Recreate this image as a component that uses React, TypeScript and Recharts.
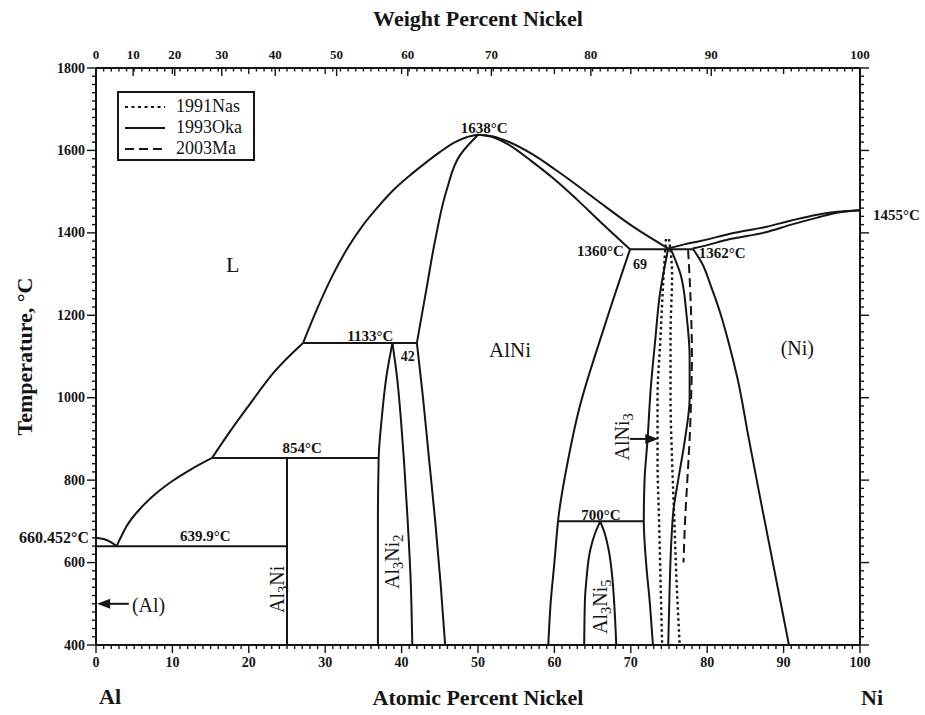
import { ComposedChart, Legend, Line, Scatter, XAxis, YAxis } from "recharts";

const FONT = '"Liberation Serif", "Times New Roman", Times, serif';
const INK = "#151515";

// axis labels
const atomicLabels = [0, 10, 20, 30, 40, 50, 60, 70, 80, 90, 100];
const weightLabels = [0, 10, 20, 30, 40, 50, 60, 70, 80, 90, 100];
const tempLabels = [400, 600, 800, 1000, 1200, 1400, 1600, 1800];
const legendNames = ["1991Nas", "1993Oka", "2003Ma"];

// atomic masses, for placing the weight-percent scale on top
const AL = 26.98;
const NI = 58.69;
const wtToAt = (w: number) => (100 * (w / NI)) / (w / NI + (100 - w) / AL);

const atomicMinor = Array.from({ length: 101 }, (_, i) => i);
const tempMinor = Array.from({ length: 71 }, (_, i) => 400 + i * 20);
const weightPos = weightLabels.map(wtToAt);
const topTicks = [...new Set([...atomicMinor, ...weightPos])].sort((a, b) => a - b);

// 1993Oka boundaries (x = at.% Ni, t = °C)
const alMelt = [
  { x: 0, t: 660.452 },
  { x: 1, t: 657 },
  { x: 2, t: 649 },
  { x: 2.7, t: 639.9 },
];
const liqAl = [
  { x: 2.7, t: 639.9 },
  { x: 4, t: 688 },
  { x: 6, t: 735 },
  { x: 8, t: 770 },
  { x: 10, t: 798 },
  { x: 12.5, t: 827 },
  { x: 15.2, t: 854 },
];
const liqAl3Ni = [
  { x: 15.2, t: 854 },
  { x: 17.5, t: 917 },
  { x: 19.8, t: 976 },
  { x: 23.3, t: 1062 },
  { x: 27.1, t: 1133 },
];
const liqDomeLeft = [
  { x: 27.1, t: 1133 },
  { x: 29, t: 1218 },
  { x: 31, t: 1298 },
  { x: 33, t: 1365 },
  { x: 35, t: 1420 },
  { x: 37, t: 1465 },
  { x: 39, t: 1505 },
  { x: 41, t: 1538 },
  { x: 43, t: 1568 },
  { x: 45, t: 1596 },
  { x: 47, t: 1620 },
  { x: 48.5, t: 1632 },
  { x: 50, t: 1638 },
];
const liqDomeRight = [
  { x: 50, t: 1638 },
  { x: 52, t: 1634 },
  { x: 54, t: 1621 },
  { x: 57, t: 1592 },
  { x: 60, t: 1555 },
  { x: 63, t: 1515 },
  { x: 66, t: 1473 },
  { x: 70.3, t: 1415 },
  { x: 74.9, t: 1362 },
];
const alNiSolRight = [
  { x: 50, t: 1638 },
  { x: 52, t: 1632 },
  { x: 54, t: 1614 },
  { x: 57, t: 1574 },
  { x: 60, t: 1530 },
  { x: 63, t: 1480 },
  { x: 66, t: 1427 },
  { x: 69.9, t: 1360 },
];
const alNiLeftUpper = [
  { x: 42, t: 1133 },
  { x: 43.3, t: 1269 },
  { x: 44.4, t: 1383 },
  { x: 45.9, t: 1504 },
  { x: 47.7, t: 1590 },
  { x: 50, t: 1638 },
];
const alNiLeftLower = [
  { x: 42, t: 1133 },
  { x: 42.8, t: 1000 },
  { x: 43.6, t: 850 },
  { x: 44.4, t: 700 },
  { x: 45.1, t: 550 },
  { x: 45.7, t: 400 },
];
const alNiRightLower = [
  { x: 69.9, t: 1360 },
  { x: 66.5, t: 1170 },
  { x: 63.2, t: 970 },
  { x: 61.8, t: 850 },
  { x: 60.6, t: 720 },
  { x: 60, t: 600 },
  { x: 59.5, t: 500 },
  { x: 59.2, t: 400 },
];
const al3Ni2Left = [
  { x: 38.8, t: 1133 },
  { x: 38, t: 1050 },
  { x: 37.4, t: 950 },
  { x: 37, t: 854 },
  { x: 36.9, t: 700 },
  { x: 36.9, t: 400 },
];
const al3Ni2Right = [
  { x: 38.8, t: 1133 },
  { x: 39.4, t: 1050 },
  { x: 39.9, t: 950 },
  { x: 40.3, t: 850 },
  { x: 40.8, t: 700 },
  { x: 41.2, t: 550 },
  { x: 41.4, t: 400 },
];
const al3Ni5Left = [
  { x: 66, t: 700 },
  { x: 65.3, t: 670 },
  { x: 64.7, t: 631 },
  { x: 64.2, t: 560 },
  { x: 64, t: 510 },
  { x: 63.9, t: 400 },
];
const al3Ni5Right = [
  { x: 66, t: 700 },
  { x: 66.6, t: 670 },
  { x: 67.1, t: 631 },
  { x: 67.6, t: 560 },
  { x: 67.8, t: 510 },
  { x: 68.1, t: 400 },
];
const alNi3Left = [
  { x: 74.9, t: 1362 },
  { x: 73.8, t: 1250 },
  { x: 73.2, t: 1140 },
  { x: 72.6, t: 1020 },
  { x: 72.2, t: 900 },
  { x: 71.8, t: 800 },
  { x: 71.7, t: 700 },
  { x: 72, t: 600 },
  { x: 72.5, t: 500 },
  { x: 72.9, t: 400 },
];
const alNi3Right = [
  { x: 75.2, t: 1362 },
  { x: 76.5, t: 1300 },
  { x: 77.3, t: 1200 },
  { x: 77.7, t: 1100 },
  { x: 77.7, t: 1000 },
  { x: 77.1, t: 900 },
  { x: 76.2, t: 800 },
  { x: 75.6, t: 730 },
  { x: 75.3, t: 650 },
  { x: 75.1, t: 550 },
  { x: 74.9, t: 400 },
];
const niSolvus = [
  { x: 78.1, t: 1362 },
  { x: 79.3, t: 1327 },
  { x: 80.5, t: 1270 },
  { x: 81.7, t: 1206 },
  { x: 83, t: 1120 },
  { x: 84, t: 1044 },
  { x: 85.4, t: 905 },
  { x: 86.9, t: 760 },
  { x: 88.7, t: 590 },
  { x: 90.7, t: 400 },
];
const niLiquidus = [
  { x: 74.9, t: 1362 },
  { x: 77, t: 1372 },
  { x: 79.1, t: 1380 },
  { x: 83, t: 1398 },
  { x: 87.8, t: 1415 },
  { x: 91, t: 1430 },
  { x: 94.4, t: 1444 },
  { x: 97, t: 1451 },
  { x: 100, t: 1455 },
];
const niSolidus = [
  { x: 78.1, t: 1362 },
  { x: 79.1, t: 1366 },
  { x: 83, t: 1385 },
  { x: 87.8, t: 1402 },
  { x: 91, t: 1420 },
  { x: 94.4, t: 1437 },
  { x: 97, t: 1449 },
  { x: 100, t: 1455 },
];

// invariant lines and line compounds
const eut640 = [{ x: 0, t: 639.9 }, { x: 25, t: 639.9 }];
const per854 = [{ x: 15.2, t: 854 }, { x: 37, t: 854 }];
const per1133 = [{ x: 27.1, t: 1133 }, { x: 42, t: 1133 }];
const al3Ni = [{ x: 25, t: 854 }, { x: 25, t: 400 }];
const eut1360 = [{ x: 69.9, t: 1360 }, { x: 78.1, t: 1360 }];
const per700 = [{ x: 60.6, t: 700 }, { x: 71.7, t: 700 }];
const arrowAl = [{ x: 4.3, t: 500 }, { x: 1.2, t: 500 }];
const arrowAlNi3 = [{ x: 69.9, t: 900 }, { x: 72.4, t: 900 }];
const arrowHeads = [
  { x: 0.15, t: 500, dir: -1 },
  { x: 73.6, t: 900, dir: 1 },
];

// 1991Nas (dotted) and 2003Ma (dashed)
const nasLeft = [
  { x: 74.6, t: 1385 },
  { x: 74.3, t: 1300 },
  { x: 73.9, t: 1150 },
  { x: 73.5, t: 1000 },
  { x: 73.5, t: 850 },
  { x: 73.7, t: 700 },
  { x: 73.9, t: 550 },
  { x: 74.1, t: 400 },
];
const nasRight = [
  { x: 75, t: 1385 },
  { x: 75.4, t: 1300 },
  { x: 75.2, t: 1150 },
  { x: 75.2, t: 1000 },
  { x: 75.4, t: 850 },
  { x: 75.7, t: 700 },
  { x: 76, t: 550 },
  { x: 76.4, t: 400 },
];
const maRight = [
  { x: 77.5, t: 1358 },
  { x: 77.8, t: 1250 },
  { x: 78, t: 1100 },
  { x: 77.9, t: 1000 },
  { x: 77.7, t: 900 },
  { x: 77.4, t: 800 },
  { x: 77.1, t: 700 },
  { x: 76.9, t: 600 },
];

// curves that run left to right, and the steep ones that run top to bottom
const flatCurves = [alMelt, liqAl, liqAl3Ni, liqDomeLeft, liqDomeRight, alNiSolRight, niLiquidus, niSolidus];
const steepCurves = [
  alNiLeftUpper, alNiLeftLower, alNiRightLower, al3Ni2Left, al3Ni2Right,
  al3Ni5Left, al3Ni5Right, alNi3Left, alNi3Right, niSolvus,
];
const straight = [eut640, per854, per1133, al3Ni, eut1360, per700, arrowAl, arrowAlNi3];

type Note = {
  x: number;
  t: number;
  text: string;
  size: number;
  bold?: boolean;
  anchor?: "start" | "middle" | "end";
  dx?: number;
  rotate?: number;
};

const notes: Note[] = [
  { text: "1638°C", x: 50.8, t: 1654, size: 15, bold: true },
  { text: "1133°C", x: 35.9, t: 1149, size: 15, bold: true },
  { text: "42", x: 40.8, t: 1102, size: 14, bold: true },
  { text: "854°C", x: 27, t: 878, size: 15, bold: true },
  { text: "639.9°C", x: 14.3, t: 664, size: 15, bold: true },
  { text: "660.452°C", x: 0, t: 663, size: 16, bold: true, anchor: "end", dx: -7 },
  { text: "1360°C", x: 69.1, t: 1355, size: 15, bold: true, anchor: "end" },
  { text: "69", x: 71.2, t: 1325, size: 14, bold: true },
  { text: "1362°C", x: 78.9, t: 1351, size: 15, bold: true, anchor: "start" },
  { text: "1455°C", x: 100, t: 1444, size: 15, bold: true, anchor: "start", dx: 13 },
  { text: "700°C", x: 66.1, t: 716, size: 15, bold: true },
  { text: "L", x: 17.9, t: 1325, size: 22 },
  { text: "AlNi", x: 54.2, t: 1116, size: 21 },
  { text: "(Ni)", x: 91.8, t: 1121, size: 20 },
  { text: "(Al)", x: 4.7, t: 498, size: 20, anchor: "start" },
  { text: "Al_3Ni", x: 23.7, t: 535, size: 20, rotate: -90 },
  { text: "Al_3Ni_2", x: 38.7, t: 602, size: 20, rotate: -90 },
  { text: "Al_3Ni_5", x: 66, t: 493, size: 20, rotate: -90 },
  { text: "AlNi_3", x: 68.8, t: 905, size: 20, rotate: -90 },
];

const chem = (text: string, size: number) => {
  const parts = text.split(/(_\d)/).filter(Boolean);
  const shift = size * 0.3;
  return parts.map((p, i) => {
    if (p.startsWith("_")) {
      return (
        <tspan key={i} fontSize={size * 0.72} dy={shift}>
          {p.slice(1)}
        </tspan>
      );
    }
    const prevSub = i > 0 && parts[i - 1].startsWith("_");
    return (
      <tspan key={i} dy={prevSub ? -shift : 0}>
        {p}
      </tspan>
    );
  });
};

function NoteShape(props: any) {
  const { cx, cy, payload } = props;
  const n = payload as Note;
  const x = cx + (n.dx ?? 0);
  return (
    <text
      x={x}
      y={cy}
      textAnchor={n.anchor ?? "middle"}
      dominantBaseline="central"
      fontFamily={FONT}
      fontSize={n.size}
      fontWeight={n.bold ? 700 : 400}
      fill={INK}
      transform={n.rotate ? `rotate(${n.rotate} ${x} ${cy})` : undefined}
    >
      {chem(n.text, n.size)}
    </text>
  );
}

function ArrowHead(props: any) {
  const { cx, cy, payload } = props;
  const d = payload.dir;
  const pts = `${cx},${cy} ${cx - d * 13},${cy - 5} ${cx - d * 13},${cy + 5}`;
  return <polygon points={pts} fill={INK} />;
}

const tickText = {
  fontFamily: FONT,
  fontSize: 14,
  fontWeight: 700,
  fill: INK,
};

function BottomTick({ x = 0, y = 0, payload }: any) {
  const v = payload?.value ?? 0;
  const major = atomicLabels.includes(v);
  return (
    <g>
      <line x1={x} x2={x} y1={y} y2={y + (major ? 8 : 4)} stroke={INK} strokeWidth={1.4} />
      {major && (
        <text x={x} y={y + 17} textAnchor="middle" dominantBaseline="central" {...tickText}>
          {v}
        </text>
      )}
    </g>
  );
}

function TopTick({ x = 0, y = 0, payload }: any) {
  const v = payload?.value ?? 0;
  const idx = weightPos.findIndex((p) => Math.abs(p - v) < 1e-6);
  const len = idx >= 0 ? 8 : v % 10 === 0 ? 6 : 3.5;
  return (
    <g>
      <line x1={x} x2={x} y1={y} y2={y + len} stroke={INK} strokeWidth={1.4} />
      {idx >= 0 && (
        <text x={x} y={y - 14} textAnchor="middle" dominantBaseline="central" {...tickText} fontSize={13}>
          {weightLabels[idx]}
        </text>
      )}
    </g>
  );
}

function LeftTick({ x = 0, y = 0, payload }: any) {
  const v = payload?.value ?? 0;
  const major = tempLabels.includes(v);
  return (
    <g>
      <line x1={x} x2={x - (major ? 9 : 4)} y1={y} y2={y} stroke={INK} strokeWidth={1.4} />
      {major && (
        <text x={x - 11} y={y} textAnchor="end" dominantBaseline="central" {...tickText}>
          {v}
        </text>
      )}
    </g>
  );
}

function RightTick({ x = 0, y = 0, payload }: any) {
  const v = payload?.value ?? 0;
  const major = tempLabels.includes(v);
  return <line x1={x} x2={x + (major ? 9 : 4)} y1={y} y2={y} stroke={INK} strokeWidth={1.4} />;
}

const titleText = {
  fontFamily: FONT,
  fontSize: 22,
  fontWeight: 700,
  fill: INK,
};

function LegendBox() {
  const dashes = ["3 3.5", undefined, "9 5"];
  return (
    <div
      style={{
        width: 138,
        height: 70,
        boxSizing: "border-box",
        border: `2px solid ${INK}`,
        background: "#fff",
        padding: "3px 6px",
        fontFamily: FONT,
        fontSize: 18,
        lineHeight: "21px",
        color: INK,
      }}
    >
      {legendNames.map((name, i) => (
        <div key={name} style={{ display: "flex", alignItems: "center", height: 21 }}>
          <svg width={40} height={8}>
            <line x1={0} x2={40} y1={4} y2={4} stroke={INK} strokeWidth={2} strokeDasharray={dashes[i]} />
          </svg>
          <span style={{ marginLeft: 11 }}>{name}</span>
        </div>
      ))}
    </div>
  );
}

const lineProps = {
  dataKey: "t",
  xAxisId: "at",
  yAxisId: "t",
  stroke: INK,
  dot: false,
  activeDot: false,
  legendType: "none" as const,
  isAnimationActive: false,
};

export default function App() {
  return (
    <div style={{ position: "absolute", left: 0, top: 0, width: 925, height: 715, background: "#fff" }}>
      <ComposedChart width={925} height={715} margin={{ top: 28, right: 15, bottom: 30, left: 46 }}>
        <XAxis
          xAxisId="at"
          type="number"
          dataKey="x"
          domain={[0, 100]}
          ticks={atomicMinor}
          interval={0}
          height={40}
          tickSize={0}
          tickMargin={0}
          tickLine={false}
          axisLine={{ stroke: INK, strokeWidth: 2 }}
          tick={(p: any) => <BottomTick {...p} />}
          label={{
            content: ({ viewBox }: any) => (
              <g>
                <text x={viewBox.x + viewBox.width / 2} y={viewBox.y + 52} textAnchor="middle" dominantBaseline="central" {...titleText}>
                  Atomic Percent Nickel
                </text>
                <text x={viewBox.x + 14} y={viewBox.y + 51} textAnchor="middle" dominantBaseline="central" {...titleText}>
                  Al
                </text>
                <text x={viewBox.x + viewBox.width + 12} y={viewBox.y + 52} textAnchor="middle" dominantBaseline="central" {...titleText}>
                  Ni
                </text>
              </g>
            ),
          }}
        />
        <XAxis
          xAxisId="wt"
          orientation="top"
          type="number"
          dataKey="x"
          domain={[0, 100]}
          allowDataOverflow
          ticks={topTicks}
          interval={0}
          height={40}
          tickSize={0}
          tickMargin={0}
          tickLine={false}
          axisLine={{ stroke: INK, strokeWidth: 2 }}
          tick={(p: any) => <TopTick {...p} />}
          label={{
            content: ({ viewBox }: any) => (
              <text x={viewBox.x + viewBox.width / 2} y={viewBox.y - 10} textAnchor="middle" dominantBaseline="central" {...titleText}>
                Weight Percent Nickel
              </text>
            ),
          }}
        />
        <YAxis
          yAxisId="t"
          type="number"
          dataKey="t"
          domain={[400, 1800]}
          ticks={tempMinor}
          interval={0}
          width={50}
          tickSize={0}
          tickMargin={0}
          tickLine={false}
          axisLine={{ stroke: INK, strokeWidth: 2 }}
          tick={(p: any) => <LeftTick {...p} />}
          label={{
            content: ({ viewBox }: any) => {
              const cx = viewBox.x - 22;
              const cy = viewBox.y + viewBox.height / 2;
              return (
                <text
                  x={cx}
                  y={cy}
                  textAnchor="middle"
                  dominantBaseline="central"
                  transform={`rotate(-90 ${cx} ${cy})`}
                  {...titleText}
                >
                  Temperature, °C
                </text>
              );
            },
          }}
        />
        <YAxis
          yAxisId="r"
          orientation="right"
          type="number"
          dataKey="t"
          domain={[400, 1800]}
          allowDataOverflow
          ticks={tempMinor}
          interval={0}
          width={50}
          tickSize={0}
          tickMargin={0}
          tickLine={false}
          axisLine={{ stroke: INK, strokeWidth: 2 }}
          tick={(p: any) => <RightTick {...p} />}
        />
        <Legend
          layout="horizontal"
          verticalAlign="middle"
          align="center"
          wrapperStyle={{ left: 117, top: 91, width: 140 }}
          content={() => <LegendBox />}
        />
        {flatCurves.map((d, i) => (
          <Line key={`f${i}`} data={d} type="monotoneX" strokeWidth={2} {...lineProps} />
        ))}
        {steepCurves.map((d, i) => (
          <Line key={`v${i}`} data={d} type="monotoneY" strokeWidth={2} {...lineProps} />
        ))}
        {straight.map((d, i) => (
          <Line key={`s${i}`} data={d} type="linear" strokeWidth={2} {...lineProps} />
        ))}
        {[nasLeft, nasRight].map((d, i) => (
          <Line
            key={`n${i}`}
            data={d}
            type="monotoneY"
            strokeWidth={2.4}
            strokeDasharray="2.5 3"
            {...lineProps}
          />
        ))}
        <Line data={maRight} type="monotoneY" strokeWidth={2} strokeDasharray="9 5" {...lineProps} />
        <Scatter
          data={arrowHeads}
          xAxisId="at"
          yAxisId="t"
          shape={(p: any) => <ArrowHead {...p} />}
          legendType="none"
          isAnimationActive={false}
        />
        <Scatter
          data={notes}
          xAxisId="at"
          yAxisId="t"
          shape={(p: any) => <NoteShape {...p} />}
          legendType="none"
          isAnimationActive={false}
        />
      </ComposedChart>
    </div>
  );
}
